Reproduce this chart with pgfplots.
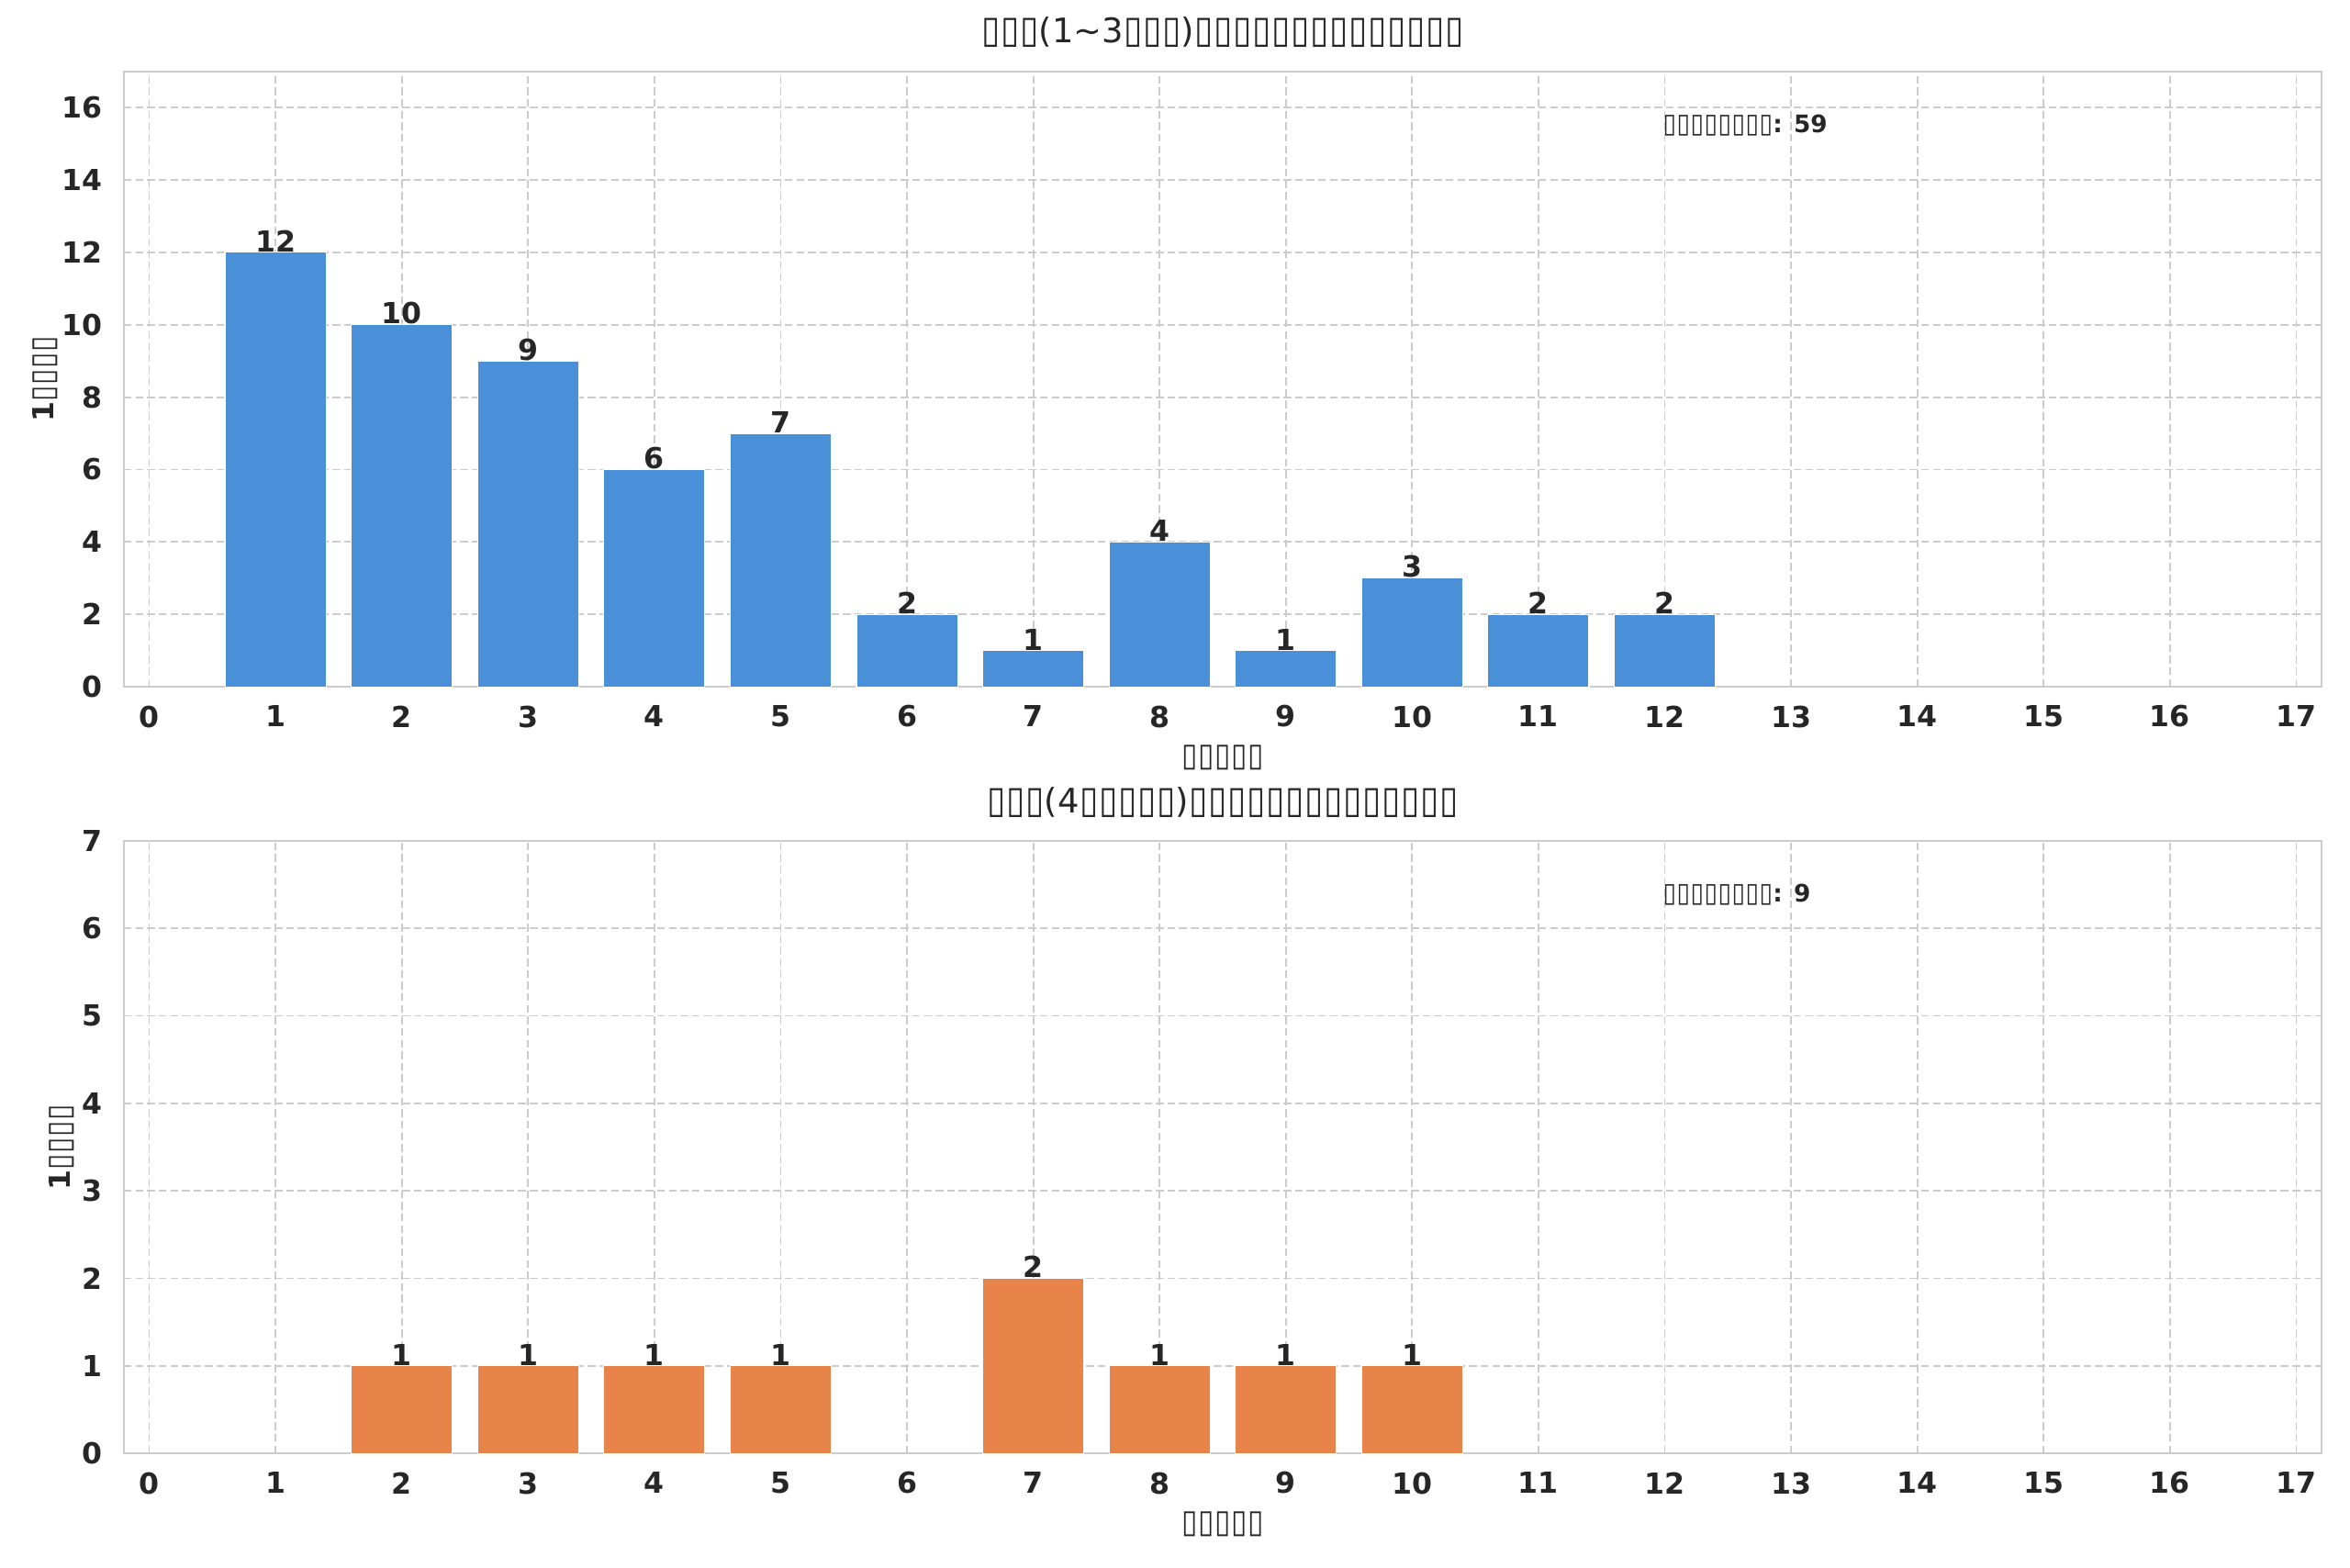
\documentclass[border=0pt]{standalone}
\usepackage{pgfplots}
\pgfplotsset{compat=1.18}
\usepackage{fontspec}
\setmainfont{DejaVu Sans}
\definecolor{barblue}{HTML}{4A90D9}
\definecolor{barorange}{HTML}{E8834A}
\definecolor{txt}{HTML}{262626}
\definecolor{gridc}{HTML}{CCCCCC}
\newcommand\T{\makebox[0.57em]{\scalebox{1}[1.12]{▯}}}
\pgfplotsset{
 mystyle/.style={
  scale only axis, width=909.7pt,
  xmin=-0.2, xmax=17.2, ymin=0,
  xtick={0,...,17},
  xmajorgrids, ymajorgrids,
  grid style={gridc, line width=0.7pt, dash pattern=on 3.2pt off 1.6pt},
  axis line style={gridc, line width=0.65pt},
  major tick length=0pt,
  tick style={draw=none},
  /pgf/number format/assume math mode=true,
  ticklabel style={font=\fontsize{12}{14}\selectfont\bfseries, text=txt, inner sep=0pt},
  xticklabel style={anchor=north, yshift=-7.6pt},
  yticklabel style={anchor=east, xshift=-8.9pt},
  title style={at={(0.5,1)}, anchor=base, inner sep=0pt, font=\fontsize{14}{16}\selectfont, text=txt},
  xlabel style={at={(axis description cs:0.5,0)}, anchor=base, yshift=-33pt, inner sep=0pt, font=\fontsize{12}{14}\selectfont\bfseries, text=txt},
  ylabel style={anchor=center, inner sep=0pt, font=\fontsize{12}{14}\selectfont\bfseries, text=txt},
  ybar, bar width=0.8,
  nodes near coords,
  nodes near coords style={anchor=south, inner sep=0pt, font=\fontsize{12}{14}\selectfont\bfseries, text=txt},
 }
}
\begin{document}
\begin{tikzpicture}
\useasboundingbox (0,0) rectangle (972.8pt,648.66pt);
% top axis
\begin{axis}[mystyle,
  at={(51.3pt,364.4pt)}, anchor=south west, height=254.7pt,
  ymax=17, ytick={0,2,...,16},
  title style={yshift=6pt},
  title={\T\T\T(1\textasciitilde3\T\T\T)\T\T\T\T\T\T\T\T\T\T\T\T\T\T},
  xlabel={\T\T\T\T\T},
  ylabel={1\T\T\T\T},
  ylabel style={at={(axis description cs:-0.0359,0.5)}},
]
\addplot[fill=barblue, draw=white, line width=0.4pt] coordinates {
 (1,12) (2,10) (3,9) (4,6) (5,7) (6,2) (7,1) (8,4) (9,1) (10,3) (11,2) (12,2)
};
\node[anchor=base west, inner sep=0pt, font=\fontsize{10}{12}\selectfont\bfseries, text=txt] at (axis description cs:0.7,0.9) {\T\T\T\T\T\T\T\T: 59};
\end{axis}
% bottom axis
\begin{axis}[mystyle,
  at={(51.3pt,47.1pt)}, anchor=south west, height=253.5pt,
  ymax=7, ytick={0,1,...,7},
  title style={yshift=5.4pt},
  title={\T\T\T(4\T\T\T\T\T)\T\T\T\T\T\T\T\T\T\T\T\T\T\T},
  xlabel={\T\T\T\T\T},
  ylabel={1\T\T\T\T},
  ylabel style={at={(axis description cs:-0.0284,0.5)}},
]
\addplot[fill=barorange, draw=white, line width=0.4pt] coordinates {
 (2,1) (3,1) (4,1) (5,1) (7,2) (8,1) (9,1) (10,1)
};
\node[anchor=base west, inner sep=0pt, font=\fontsize{10}{12}\selectfont\bfseries, text=txt] at (axis description cs:0.7,0.9) {\T\T\T\T\T\T\T\T: 9};
\end{axis}
\end{tikzpicture}
\end{document}
